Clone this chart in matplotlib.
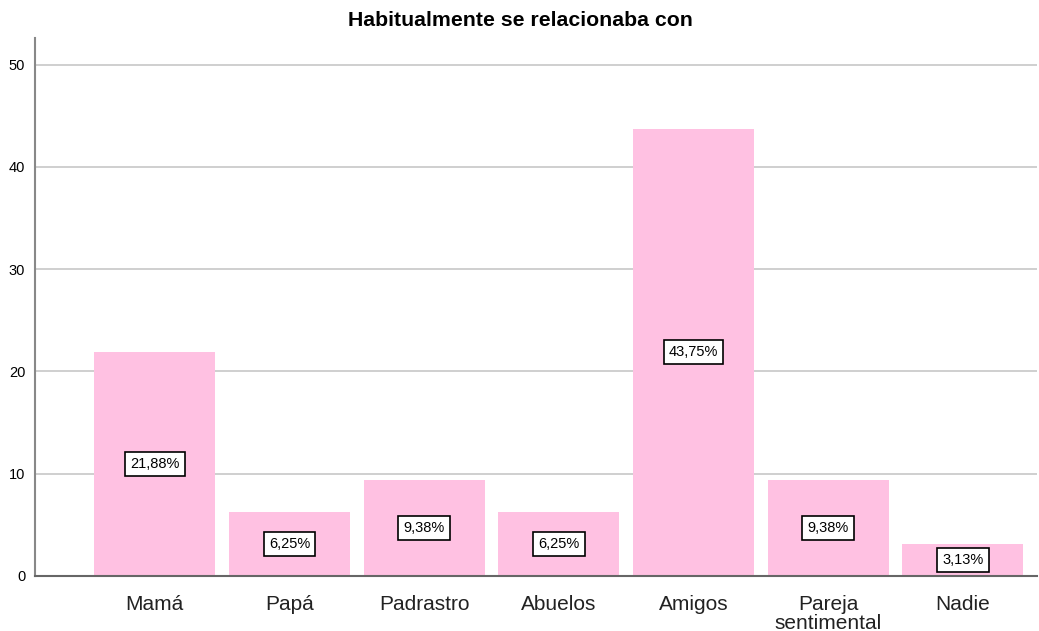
import numpy as np
import matplotlib.pyplot as plt

categories = ["Mamá", "Papá", "Padrastro", "Abuelos", "Amigos", "Pareja\nsentimental", "Nadie"]
percent = [21.88, 6.25, 9.38, 6.25, 43.75, 9.38, 3.13]
labels = ["21,88%", "6,25%", "9,38%", "6,25%", "43,75%", "9,38%", "3,13%"]
yticks = [0, 10, 20, 30, 40, 50]

plt.rcParams['font.family'] = ['Liberation Sans', 'DejaVu Sans']

fig = plt.figure(figsize=(10.39, 6.31), dpi=100)
ax = fig.add_axes([0.0337, 0.0872, 0.9643, 0.8526])

x = np.arange(len(categories))
ax.bar(x, percent, width=0.9, color='#ffc1e2', zorder=2)

# percentage labels in white boxes at half the bar height
for xi, v, lab in zip(x, percent, labels):
    ax.text(xi, v / 2, lab, ha='center', va='center', fontsize=10.5, zorder=3,
            bbox=dict(boxstyle='square,pad=0.35', facecolor='white', edgecolor='black', linewidth=1.2))

ax.set_xlim(-0.89, 6.55)
ax.set_ylim(0, 52.6)
ax.set_yticks(yticks)
ax.set_yticklabels([str(t) for t in yticks], fontsize=10.5)
ax.set_xticks(x)
ax.set_xticklabels(categories, fontsize=15, color='#222222', linespacing=0.95)
ax.tick_params(axis='both', length=0)
ax.tick_params(axis='y', pad=7)
ax.tick_params(axis='x', pad=14)
ax.yaxis.grid(True, color='#cccccc', linewidth=1.3, zorder=0)
ax.set_axisbelow(True)

for s in ['top', 'right']:
    ax.spines[s].set_visible(False)
ax.spines['left'].set_color('#888888')
ax.spines['left'].set_linewidth(1.5)
ax.spines['bottom'].set_color('#666666')
ax.spines['bottom'].set_linewidth(1.5)

fig.text(0.5005, 0.967, "Habitualmente se relacionaba con", ha='center', va='center',
         fontsize=15.3, fontweight='bold')

fig.savefig('out.png', dpi=100)
